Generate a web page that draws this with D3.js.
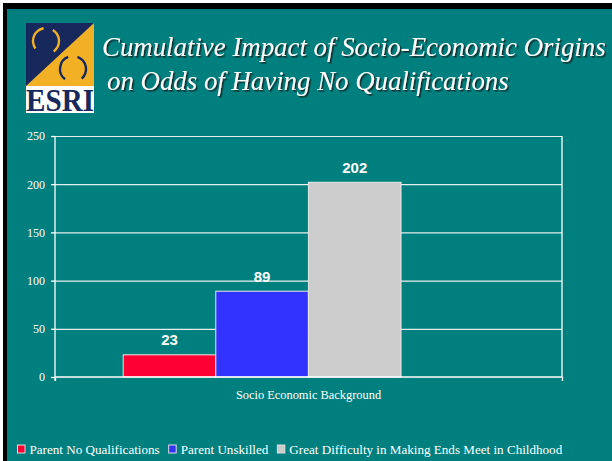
<!DOCTYPE html>
<html>
<head>
<meta charset="utf-8">
<script src="https://cdn.jsdelivr.net/npm/d3@7"></script>
<style>
  html, body { margin: 0; padding: 0; background: #ffffff; }
  svg { display: block; }
</style>
</head>
<body>
<script>
// ---------- data ----------
const titleLines = ["Cumulative Impact of Socio-Economic Origins", "on Odds of Having No Qualifications"];
const category = "Socio Economic Background";
const seriesNames = ["Parent No Qualifications", "Parent Unskilled", "Great Difficulty in Making Ends Meet in Childhood"];
const seriesValues = [23, 89, 202];
const seriesColors = ["#ff0033", "#3333ff", "#cccccc"];
const yTicks = [0, 50, 100, 150, 200, 250];

// ---------- layout ----------
const W = 612, H = 461;
const teal = "#007f7f";
const plot = { left: 55, right: 562, top: 136, bottom: 377 };
const serif = "Liberation Serif";

const svg = d3.select("body").append("svg").attr("width", W).attr("height", H);
const defs = svg.append("defs");

// background + black frame
svg.append("rect").attr("width", W).attr("height", H).attr("fill", "#ffffff");
svg.append("rect").attr("x", 3).attr("y", 3).attr("width", W - 3).attr("height", H - 3).attr("fill", "#000000");
svg.append("rect").attr("x", 7).attr("y", 9).attr("width", W - 7).attr("height", H - 9).attr("fill", teal);

// ---------- logo ----------
const lw = 68, lh = 90, band = 63;
const navy = "#17295c", gold = "#f2b024";
const logo = svg.append("g").attr("transform", "translate(26,23)");
logo.append("rect").attr("width", lw).attr("height", lh).attr("fill", "#ffffff");
logo.append("rect").attr("width", lw).attr("height", band).attr("fill", gold);
logo.append("path").attr("d", `M0,0 L${lw},0 L0,${band} Z`).attr("fill", navy);
defs.append("clipPath").attr("id", "navyClip").append("path").attr("d", `M0,0 L${lw},0 L0,${band} Z`);
defs.append("clipPath").attr("id", "goldClip").append("path").attr("d", `M${lw},0 L${lw},${band} L0,${band} Z`);
const onNavy = logo.append("g").attr("clip-path", "url(#navyClip)");
const onGold = logo.append("g").attr("clip-path", "url(#goldClip)");
const arc = d3.arc();
function ring(cx, cy, r, parts) {
  parts.forEach(([a0, a1]) => {
    const p = arc({ innerRadius: r - 1.2, outerRadius: r + 1.2, startAngle: a0, endAngle: a1 });
    onNavy.append("path").attr("d", p).attr("transform", `translate(${cx},${cy})`).attr("fill", gold);
    onGold.append("path").attr("d", p).attr("transform", `translate(${cx},${cy})`).attr("fill", navy);
  });
}
ring(20, 18, 13, [[4.1, 6.1], [0.55, 2.5]]);
ring(47, 46, 13, [[3.8, 5.9], [0.35, 2.4]]);
logo.append("text").attr("x", 0).attr("y", 88)
  .attr("textLength", lw).attr("lengthAdjust", "spacingAndGlyphs")
  .attr("font-family", serif)
  .attr("font-weight", "bold").attr("font-size", 31).attr("fill", navy)
  .text("ESRI");

// ---------- title (serif italic with drop shadow) ----------
const shadow = defs.append("filter").attr("id", "titleShadow")
  .attr("x", "-5%").attr("y", "-30%").attr("width", "110%").attr("height", "160%");
shadow.append("feDropShadow").attr("dx", 1.6).attr("dy", 1.6).attr("stdDeviation", 0.4)
  .attr("flood-color", "#142a2a").attr("flood-opacity", 0.95);
const titleG = svg.append("g").attr("font-family", serif).attr("font-style", "italic");
const titlePos = [[102, 56], [107, 90]];
const probe = titleG.append("text").attr("font-size", 26).text(titleLines[0]);
const fs = Math.min(27.5, 26 * 504 / probe.node().getComputedTextLength());
probe.remove();
titleLines.forEach((t, i) => {
  const [tx, ty] = titlePos[i];
  titleG.append("text").attr("x", tx).attr("y", ty)
    .attr("font-size", fs).attr("fill", "#ffffff").attr("filter", "url(#titleShadow)").text(t);
});

// ---------- scales ----------
const pw = plot.right - plot.left;
const y = d3.scaleLinear().domain([0, 250]).range([plot.bottom, plot.top]);
const x0 = d3.scaleBand().domain([category]).range([plot.left, plot.right]);
const x1 = d3.scaleBand().domain(seriesNames)
  .range([plot.left + 0.1345 * pw, plot.left + 0.6825 * pw]);

// gridlines
svg.append("g").attr("transform", `translate(${plot.left},0)`)
  .call(d3.axisLeft(y).tickValues(yTicks.filter(v => v > 0)).tickSize(-pw).tickFormat(""))
  .call(g => g.select(".domain").remove())
  .call(g => g.selectAll("line").attr("stroke", "#e6eeee").attr("stroke-width", 1.2));

// bars
const data = seriesNames.map((s, i) => ({ s, v: seriesValues[i], c: seriesColors[i] }));
svg.append("g").selectAll("rect").data(data).join("rect")
  .attr("x", d => x1(d.s)).attr("y", d => y(d.v))
  .attr("width", x1.bandwidth()).attr("height", d => y(0) - y(d.v))
  .attr("fill", d => d.c).attr("stroke", "#e8e8e8").attr("stroke-width", 1);

// value labels
svg.append("g").selectAll("text").data(data).join("text")
  .attr("x", d => x1(d.s) + x1.bandwidth() / 2).attr("y", d => y(d.v) - 9.5)
  .attr("text-anchor", "middle")
  .attr("font-family", "Liberation Sans").attr("font-weight", "bold")
  .attr("font-size", 15).attr("fill", "#ffffff")
  .text(d => d.v);

// y axis
svg.append("g").attr("transform", `translate(${plot.left},0)`)
  .call(d3.axisLeft(y).tickValues(yTicks).tickSize(4).tickPadding(6).tickSizeOuter(0))
  .call(g => g.select(".domain").attr("stroke", "#ffffff").attr("stroke-width", 1.3)
    .attr("d", `M0,${plot.top}V${plot.bottom + 4}`))
  .call(g => g.selectAll(".tick line").attr("stroke", "#ffffff").attr("stroke-width", 1.3))
  .call(g => g.selectAll(".tick text").attr("fill", "#ffffff")
    .attr("font-family", serif).attr("font-size", 12));

// x axis (baseline + end ticks)
svg.append("g").attr("transform", `translate(0,${plot.bottom})`)
  .call(d3.axisBottom(d3.scaleLinear().domain([0, 1]).range([plot.left, plot.right]))
    .tickValues([0, 1]).tickSize(4).tickFormat(""))
  .call(g => g.select(".domain").attr("stroke", "#ffffff").attr("stroke-width", 1.3)
    .attr("d", `M${plot.left},0H${plot.right}`))
  .call(g => g.selectAll(".tick line").attr("stroke", "#ffffff").attr("stroke-width", 1.3));

// right frame
svg.append("line").attr("x1", plot.right).attr("x2", plot.right)
  .attr("y1", plot.top).attr("y2", plot.bottom)
  .attr("stroke", "#ffffff").attr("stroke-width", 1.3);

// x axis title
svg.append("text").attr("x", x0(category) + x0.bandwidth() / 2).attr("y", 399)
  .attr("text-anchor", "middle").attr("font-family", serif).attr("font-size", 12.4)
  .attr("fill", "#ffffff").text(category);

// ---------- legend ----------
const legend = svg.append("g").attr("font-family", serif).attr("font-size", 13.1);
let lx = 17.5;
data.forEach(d => {
  legend.append("rect").attr("x", lx).attr("y", 445).attr("width", 7.5).attr("height", 8)
    .attr("fill", d.c).attr("stroke", "#dddddd").attr("stroke-width", 1);
  const t = legend.append("text").attr("x", lx + 12).attr("y", 454)
    .attr("fill", "#ffffff").text(d.s);
  lx += 12 + t.node().getComputedTextLength() + 9;
});
</script>
</body>
</html>
